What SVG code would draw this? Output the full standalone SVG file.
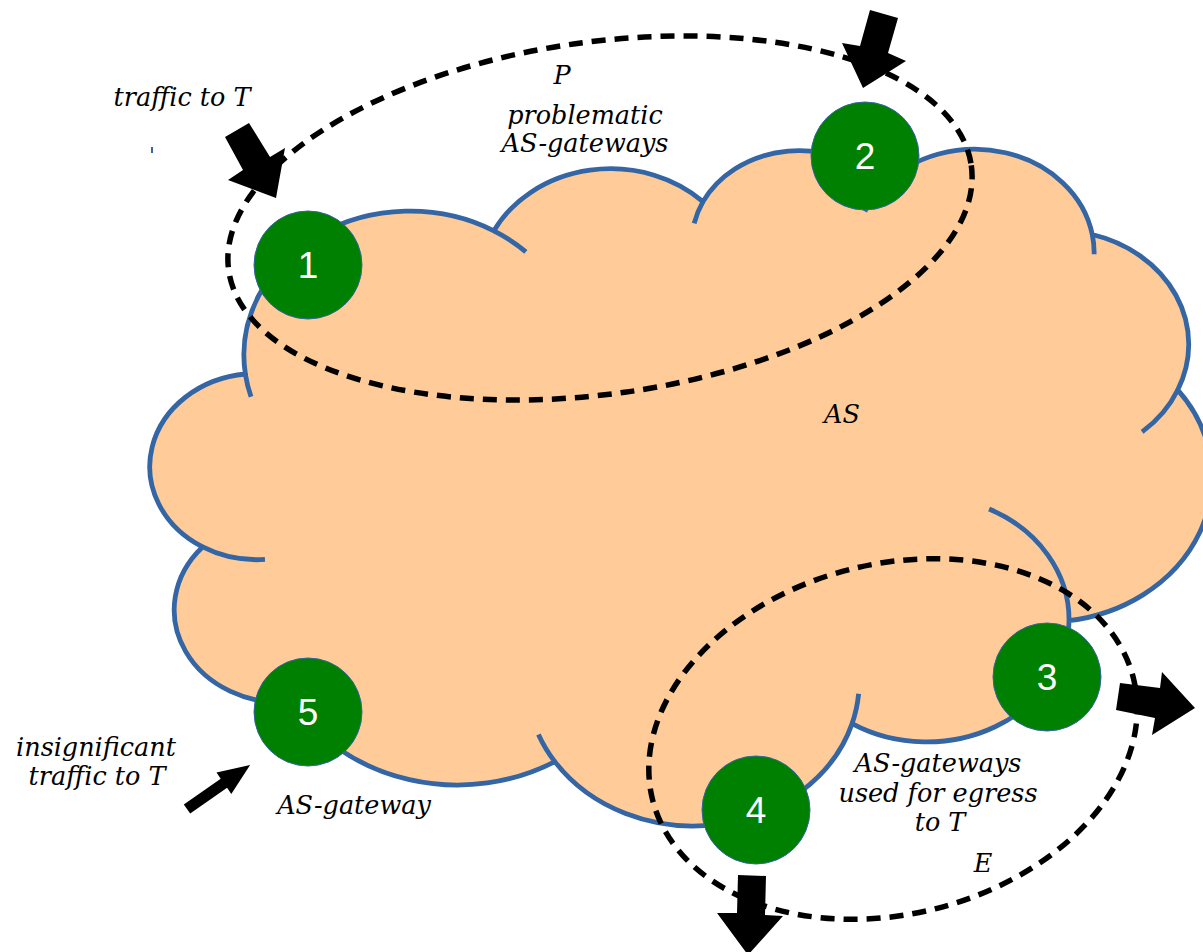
<svg xmlns="http://www.w3.org/2000/svg" width="1203" height="952" viewBox="0 0 1203 952">
  <style>
    .cloud { fill: #ffcc99; stroke: #3465a4; stroke-width: 4.8; stroke-linejoin: round; }
    .fold { fill: none; stroke: #3465a4; stroke-width: 4.8; }
    .set { fill: none; stroke: #000; stroke-width: 5.5; stroke-dasharray: 14 9; }
    .gw circle { fill: #008000; stroke: #3465a4; stroke-width: 1; }
    .gw text { fill: #fff; font-family: "Liberation Sans", Arial, sans-serif; font-size: 37px; text-anchor: middle; }
    .lbl { fill: #000; font-family: "DejaVu Serif", serif; font-style: italic; font-size: 25.5px; text-anchor: middle; }
    .arrow { fill: #000; stroke: none; }
  </style>

  <!-- the AS drawn as a cloud -->
  <g id="as-cloud">
    <path class="cloud" d="M 245.44 374.53
      A 166.12 143.92 0 0 1 493.9 230.81
      A 131.19 113.80 0 0 1 703.0 201.66
      A 107.38 93.10 0 0 1 883.07 186.14
      A 119.48 103.28 0 0 1 1092.27 234.47
      A 131.19 113.90 0 0 1 1177.73 389.94
      A 166.67 144.39 0 0 1 1069.05 620.71
      A 142.31 123.20 0 0 1 852.08 723.60
      A 166.10 144.31 0 0 1 554.86 761.65
      A 189.91 165.10 0 0 1 292.67 701.98
      A 107.26 92.68 0 0 1 202.64 546.95
      A 106.89 93.10 0 0 1 245.69 374.0 Z"/>
    <path class="fold" d="M 264.95 559.43 A 106.89 93.10 0 0 1 202.64 546.95
      M 319.93 696.02 A 107.26 92.68 0 0 1 292.67 701.98
      M 554.86 761.65 A 166.10 144.31 0 0 1 538.43 734.40
      M 858.64 693.70 A 166.10 144.31 0 0 1 852.08 723.60
      M 989.07 508.96 A 142.31 123.20 0 0 1 1069.05 620.71
      M 1177.73 389.94 A 131.19 113.90 0 0 1 1142.11 431.85
      M 1092.27 234.47 A 119.48 103.28 0 0 1 1094.14 254.27
      M 864.82 211.39 A 119.48 103.28 0 0 1 883.07 186.14
      M 694.17 223.42 A 107.38 93.10 0 0 1 703.0 201.66
      M 493.9 230.81 A 166.12 143.92 0 0 1 525.88 251.92
      M 251.02 396.76 A 166.12 143.92 0 0 1 245.44 374.53"/>
    <line x1="152" y1="147" x2="152" y2="153" stroke="#3465a4" stroke-width="2"/>
    <text class="lbl" x="842" y="423">AS</text>
  </g>

  <!-- set P: problematic gateways -->
  <g id="set-p">
    <ellipse class="set" cx="600" cy="218" rx="375" ry="176" transform="rotate(-8.06 600 218)"/>
    <text class="lbl" x="562" y="84">P</text>
    <text class="lbl" x="585" y="124">problematic</text>
    <text class="lbl" x="585" y="152">AS-gateways</text>
  </g>

  <!-- set E: egress gateways -->
  <g id="set-e">
    <ellipse class="set" cx="893" cy="739" rx="248" ry="175" transform="rotate(-14.27 893 739)"/>
    <text class="lbl" x="938" y="772">AS-gateways</text>
    <text class="lbl" x="938" y="802">used for egress</text>
    <text class="lbl" x="940" y="831">to T</text>
    <text class="lbl" x="983" y="872">E</text>
  </g>

  <!-- traffic arrows -->
  <g id="connectors">
    <polygon class="arrow" points="225,137 249,123 270,157 285,148 276,198 228,180 243,170"/>
    <polygon class="arrow" points="870,10 898,18 888,53 906,61 863,88 842,43 860,46"/>
    <polygon class="arrow" points="1120,683 1160,688 1162,672 1195,708 1152,735 1155,718 1116,710"/>
    <polygon class="arrow" points="738,875 766,876 765,915 783,916 748,955 717,913 737,913"/>
    <polygon class="arrow" points="183.8,804.5 220.7,778.7 216.5,772.5 250.1,764.9 231.3,793.9 227.1,787.7 190.2,813.5"/>
  </g>

  <!-- gateways -->
  <g id="gw1" class="gw"><circle cx="308" cy="265" r="54"/><text x="308" y="278">1</text></g>
  <g id="gw2" class="gw"><circle cx="865" cy="156" r="54"/><text x="865" y="169">2</text></g>
  <g id="gw3" class="gw"><circle cx="1047" cy="677" r="54"/><text x="1047" y="690">3</text></g>
  <g id="gw4" class="gw"><circle cx="756" cy="810" r="54"/><text x="756" y="823">4</text></g>
  <g id="gw5" class="gw"><circle cx="308" cy="712" r="54"/><text x="308" y="725">5</text></g>

  <!-- free labels -->
  <g id="labels">
    <text class="lbl" x="182" y="106">traffic to T</text>
    <text class="lbl" x="96" y="756">insignificant</text>
    <text class="lbl" x="97" y="785">traffic to T</text>
    <text class="lbl" x="354" y="814">AS-gateway</text>
  </g>
</svg>
